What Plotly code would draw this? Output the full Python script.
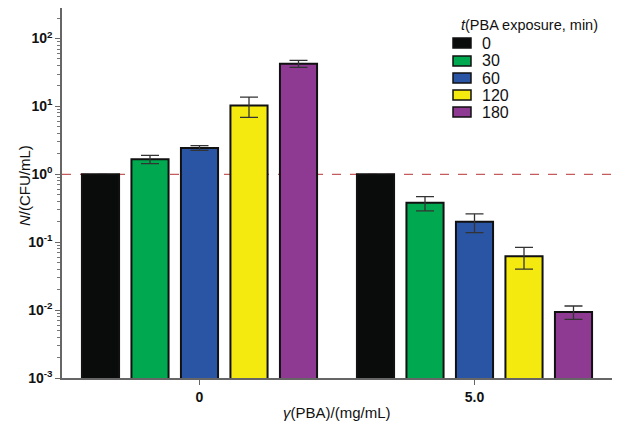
import plotly.graph_objects as go

groups = ["0", "5.0"]
times = ["0", "30", "60", "120", "180"]
colors = ["#0a0c0b", "#00a84f", "#2a55a4", "#f4ea0f", "#8e3a92"]
# values per exposure time: [group 0, group 5.0]
values = {
    "0": [1.0, 1.0],
    "30": [1.67, 0.38],
    "60": [2.45, 0.20],
    "120": [10.3, 0.062],
    "180": [42.6, 0.0094],
}
errors = {
    "0": [0.0, 0.0],
    "30": [0.23, 0.09],
    "60": [0.2, 0.062],
    "120": [3.4, 0.022],
    "180": [5.0, 0.0021],
}

major_vals = [1e-3, 1e-2, 1e-1, 1e0, 1e1, 1e2]
major_text = ["10<sup>-3</sup>", "10<sup>-2</sup>", "10<sup>-1</sup>",
              "10<sup>0</sup>", "10<sup>1</sup>", "10<sup>2</sup>"]
minor_vals = [m * 10 ** e for e in range(-3, 3) for m in range(2, 10)]

# the page body has an 8px margin; figure sized so it fills the window
OFF = 8
W, H = 612, 416
L, R, T, B = 54, 8, 0, 46
PW, PH = W - L - R, H - T - B
YTOP = -3 + PH / 67.9


def px(x):
    return (x - OFF - L) / PW


def py(y):
    return 1 - (y - OFF - T) / PH


FONT = "Liberation Sans, Arial, sans-serif"

fig = go.Figure()
for t, c in zip(times, colors):
    show_err = any(e > 0 for e in errors[t])
    fig.add_trace(go.Bar(
        x=groups, y=values[t], name=t, showlegend=False,
        marker=dict(color=c, line=dict(color="#111111", width=2)),
        error_y=dict(type="data", array=errors[t], visible=show_err,
                     color="#333333", thickness=1.3, width=9),
    ))

shapes = [dict(type="line", xref="paper", yref="y", x0=0, x1=1, y0=1, y1=1,
               line=dict(color="#b83236", width=1, dash="dash"), layer="below")]
annotations = []

# manual legend
leg_y = [43, 61, 78, 95, 112]
for t, c, yy in zip(times, colors, leg_y):
    shapes.append(dict(type="rect", xref="paper", yref="paper",
                       x0=px(453), x1=px(471), y0=py(yy + 5), y1=py(yy - 5),
                       fillcolor=c, line=dict(color="#111111", width=1.5)))
    annotations.append(dict(text=t, xref="paper", yref="paper", x=px(480), y=py(yy),
                            xanchor="left", yanchor="middle", showarrow=False,
                            font=dict(family=FONT, size=16, color="#111111")))
annotations.append(dict(text="<i>t</i>(PBA exposure, min)", xref="paper", yref="paper",
                        x=px(529), y=py(25), xanchor="center", yanchor="middle",
                        showarrow=False, font=dict(family=FONT, size=14.5, color="#111111")))
# axis titles
annotations.append(dict(text="<i>γ</i>(PBA)/(mg/mL)", xref="paper", yref="paper",
                        x=0.5, y=py(413), xanchor="center", yanchor="middle",
                        showarrow=False, font=dict(family=FONT, size=15, color="#111111")))
annotations.append(dict(text="<i>N</i>/(CFU/mL)", xref="paper", yref="paper",
                        x=px(24), y=py(186), xanchor="center", yanchor="middle",
                        textangle=-90, showarrow=False,
                        font=dict(family=FONT, size=15, color="#111111")))

fig.update_layout(
    width=W, height=H,
    margin=dict(l=L, r=R, t=T, b=B, autoexpand=False),
    paper_bgcolor="white", plot_bgcolor="white",
    barmode="group", bargap=0.1, bargroupgap=0.25,
    font=dict(family=FONT, size=14, color="#111111"),
    showlegend=False,
    shapes=shapes, annotations=annotations,
    xaxis=dict(
        type="category", range=[-0.5, 1.5], automargin=False,
        showline=True, linecolor="#666666", linewidth=1.5,
        ticks="outside", ticklen=5, tickcolor="#666666",
        tickfont=dict(family=FONT, size=14, color="#111111", weight="bold"),
    ),
    yaxis=dict(
        type="log", range=[-3, YTOP], automargin=False,
        showline=True, linecolor="#666666", linewidth=1.5,
        showgrid=False, zeroline=False,
        tickvals=major_vals, ticktext=major_text,
        ticks="outside", ticklen=5, tickcolor="#666666",
        tickfont=dict(family=FONT, size=14, color="#111111", weight="bold"),
        minor=dict(tickvals=minor_vals, ticks="outside", ticklen=3, tickcolor="#777777", showgrid=False),
    ),
)

fig.write_html("out.html")
